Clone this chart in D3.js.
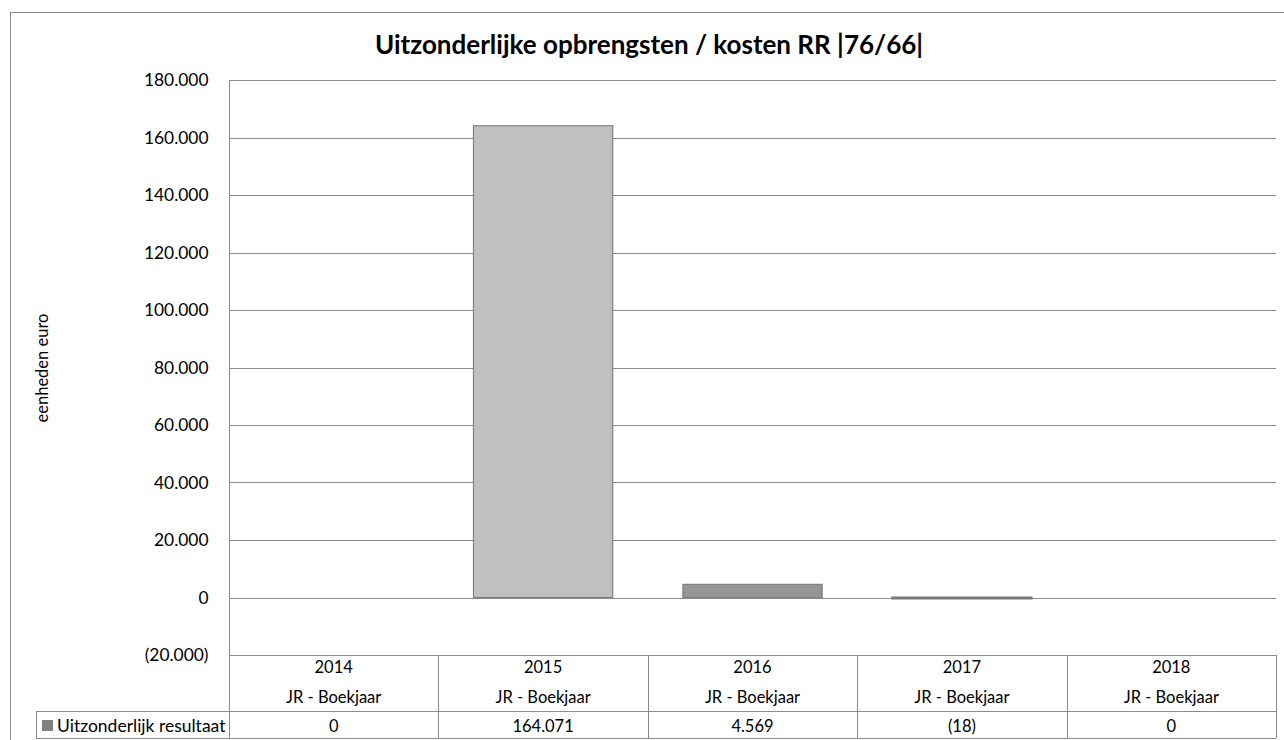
<!DOCTYPE html>
<html>
<head>
<meta charset="utf-8">
<script src="https://cdn.jsdelivr.net/npm/d3@7"></script>
<style>
  body { margin: 0; background: #fff; }
  svg { display: block; font-family: Lato, "Open Sans", sans-serif; }
</style>
</head>
<body>
<div id="chart"></div>
<script>
const years = ["2014", "2015", "2016", "2017", "2018"];
const subLabels = ["JR - Boekjaar", "JR - Boekjaar", "JR - Boekjaar", "JR - Boekjaar", "JR - Boekjaar"];
const values = [0, 164071, 4569, -18, 0];
const barColors = ["#c0c0c0", "#c0c0c0", "#969696", "#777777", "#c0c0c0"];
const yTicks = [-20000, 0, 20000, 40000, 60000, 80000, 100000, 120000, 140000, 160000, 180000];
const seriesName = "Uitzonderlijk resultaat";
const title = "Uitzonderlijke opbrengsten / kosten RR |76/66|";
const yLabel = "eenheden euro";

const W = 1284, H = 740;
const plot = { left: 229, right: 1276, top: 80, bottom: 655 };
const rowVal = 711, tableBottom = 738, legendLeft = 36;
const lineColor = "#8c8c8c";

const nl = d3.formatLocale({ decimal: ",", thousands: ".", grouping: [3], currency: ["€", ""] });
const fmtInt = nl.format(",.0f");
const fmt = v => v < 0 ? "(" + fmtInt(-v) + ")" : fmtInt(v);

const svg = d3.select("#chart").append("svg")
  .attr("width", W).attr("height", H);

// outer chart border
svg.append("rect")
  .attr("x", 10.5).attr("y", 12.5)
  .attr("width", 1400).attr("height", 900)
  .attr("fill", "none").attr("stroke", "#888").attr("stroke-width", 1);

const x = d3.scaleBand().domain(years).range([plot.left, plot.right]).padding(0);
const xBar = d3.scaleBand().domain(years).range([plot.left, plot.right])
  .paddingInner(0.335).paddingOuter(0.1675);
const y = d3.scaleLinear().domain([-20000, 180000]).range([plot.bottom, plot.top]);

// gridlines
svg.append("g")
  .selectAll("line")
  .data(yTicks.filter(t => t > -20000))
  .enter()
  .append("line")
  .attr("x1", plot.left).attr("x2", plot.right)
  .attr("y1", d => Math.round(y(d)) + 0.5)
  .attr("y2", d => Math.round(y(d)) + 0.5)
  .attr("stroke", lineColor);

// y axis
const yAxis = svg.append("g")
  .attr("transform", `translate(${plot.left + 0.5},0)`)
  .call(d3.axisLeft(y).tickValues(yTicks).tickSize(0).tickPadding(21).tickFormat(fmt));
yAxis.select(".domain").attr("stroke", lineColor).attr("d", `M0,${plot.top}V${tableBottom}`);
yAxis.selectAll("text").attr("font-size", 17.4).attr("fill", "#000")
  .attr("font-family", "Lato, sans-serif");

svg.append("text")
  .attr("transform", "translate(48,368) rotate(-90)")
  .attr("text-anchor", "middle")
  .attr("font-size", 16.5)
  .text(yLabel);

// bars
svg.append("g")
  .selectAll("rect")
  .data(values.map((v, i) => ({ year: years[i], value: v, color: barColors[i] })))
  .enter()
  .filter(d => d.value !== 0)
  .append("rect")
  .attr("x", d => xBar(d.year))
  .attr("width", xBar.bandwidth())
  .attr("y", d => y(Math.max(0, d.value)))
  .attr("height", d => Math.max(1, Math.abs(y(d.value) - y(0))))
  .attr("fill", d => d.color)
  .attr("stroke", d => d.value < 0 ? d.color : "#808080")
  .attr("stroke-width", d => d.value < 0 ? 2 : 1.2);

// title
svg.append("text")
  .attr("x", 649)
  .attr("y", 54)
  .attr("text-anchor", "middle")
  .attr("font-weight", "bold")
  .attr("font-size", 26)
  .text(title);

// data table
const table = svg.append("g").attr("stroke", lineColor).attr("fill", "none");
table.append("line").attr("x1", plot.left).attr("x2", plot.right)
  .attr("y1", plot.bottom + 0.5).attr("y2", plot.bottom + 0.5);
table.append("line").attr("x1", legendLeft).attr("x2", plot.right)
  .attr("y1", rowVal + 0.5).attr("y2", rowVal + 0.5);
table.append("line").attr("x1", legendLeft).attr("x2", plot.right)
  .attr("y1", tableBottom + 0.5).attr("y2", tableBottom + 0.5);
table.append("line").attr("x1", legendLeft + 0.5).attr("x2", legendLeft + 0.5)
  .attr("y1", rowVal).attr("y2", tableBottom);
table.selectAll(".col")
  .data(years.slice(1).concat(["end"]))
  .enter()
  .append("line")
  .attr("class", "col")
  .attr("x1", d => Math.round(d === "end" ? plot.right : x(d)) + 0.5)
  .attr("x2", d => Math.round(d === "end" ? plot.right : x(d)) + 0.5)
  .attr("y1", plot.bottom).attr("y2", tableBottom);

const cells = svg.append("g").attr("text-anchor", "middle").attr("font-size", 16.5).attr("fill", "#000");
cells.selectAll(".yr").data(years).enter().append("text")
  .attr("x", d => x(d) + x.bandwidth() / 2).attr("y", 673).text(d => d);
cells.selectAll(".sub").data(years).enter().append("text")
  .attr("x", d => x(d) + x.bandwidth() / 2).attr("y", 703).text((d, i) => subLabels[i]);
cells.selectAll(".val").data(years).enter().append("text")
  .attr("x", d => x(d) + x.bandwidth() / 2).attr("y", 732).text((d, i) => fmt(values[i]));

// legend key
svg.append("rect").attr("x", 42).attr("y", 720).attr("width", 11).attr("height", 11)
  .attr("fill", "#808080");
svg.append("text").attr("x", 57).attr("y", 732).attr("font-size", 17.5).text(seriesName);
</script>
</body>
</html>
